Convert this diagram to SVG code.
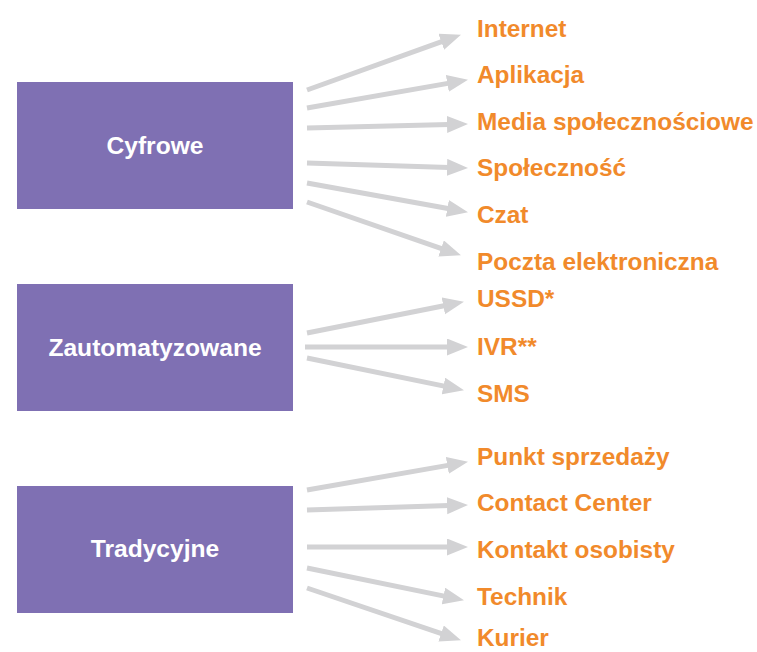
<svg xmlns="http://www.w3.org/2000/svg" width="757" height="652" viewBox="0 0 757 652">
  <style>
    .box { fill: #7F70B3; }
    .box-label { font-family: "Liberation Sans", Arial, sans-serif; font-weight: bold; font-size: 24.6px; fill: #ffffff; text-anchor: middle; }
    .item { font-family: "Liberation Sans", Arial, sans-serif; font-weight: bold; font-size: 24.4px; fill: #F18A2B; }
    .link { stroke: #D2D2D4; stroke-width: 5; fill: none; marker-end: url(#head); }
  </style>
  <defs>
    <marker id="head" markerUnits="userSpaceOnUse" markerWidth="21" markerHeight="18" refX="2" refY="8.5" orient="auto">
      <path d="M0,0 L21,8.5 L0,17 Z" fill="#D2D2D4"/>
    </marker>
  </defs>
  <rect width="757" height="652" fill="#ffffff"/>

  <!-- channel groups -->
  <g id="cyfrowe">
    <rect class="box" x="17" y="82" width="276" height="127"/>
    <text class="box-label" x="155" y="154">Cyfrowe</text>
  </g>
  <g id="zautomatyzowane">
    <rect class="box" x="17" y="284" width="276" height="127"/>
    <text class="box-label" x="155" y="356">Zautomatyzowane</text>
  </g>
  <g id="tradycyjne">
    <rect class="box" x="17" y="486" width="276" height="127"/>
    <text class="box-label" x="155" y="557">Tradycyjne</text>
  </g>

  <!-- connectors -->
  <g id="connectors">
    <line class="link" x1="307" y1="90" x2="443.1" y2="41.1"/>
    <line class="link" x1="307" y1="108" x2="449.3" y2="83.1"/>
    <line class="link" x1="307" y1="128" x2="449" y2="124.4"/>
    <line class="link" x1="307" y1="163" x2="449" y2="167.4"/>
    <line class="link" x1="307" y1="183" x2="449.3" y2="208.8"/>
    <line class="link" x1="307" y1="202" x2="443" y2="249.1"/>

    <line class="link" x1="307" y1="333" x2="445.3" y2="305.5"/>
    <line class="link" x1="305" y1="347" x2="449" y2="347"/>
    <line class="link" x1="307" y1="358" x2="445.4" y2="386.4"/>

    <line class="link" x1="307" y1="490" x2="449.3" y2="465.1"/>
    <line class="link" x1="307" y1="510" x2="449" y2="505.6"/>
    <line class="link" x1="307" y1="547" x2="449" y2="547"/>
    <line class="link" x1="307" y1="568" x2="445.4" y2="596.4"/>
    <line class="link" x1="307" y1="588" x2="443" y2="634.2"/>
  </g>

  <!-- channel items -->
  <g id="item-internet"><text class="item" x="477" y="37">Internet</text></g>
  <g id="item-aplikacja"><text class="item" x="477" y="83">Aplikacja</text></g>
  <g id="item-media"><text class="item" x="477" y="130">Media społecznościowe</text></g>
  <g id="item-spolecznosc"><text class="item" x="477" y="176">Społeczność</text></g>
  <g id="item-czat"><text class="item" x="477" y="223">Czat</text></g>
  <g id="item-poczta"><text class="item" x="477" y="270">Poczta elektroniczna</text></g>
  <g id="item-ussd"><text class="item" x="477" y="307">USSD*</text></g>
  <g id="item-ivr"><text class="item" x="477" y="355">IVR**</text></g>
  <g id="item-sms"><text class="item" x="477" y="402">SMS</text></g>
  <g id="item-punkt"><text class="item" x="477" y="465">Punkt sprzedaży</text></g>
  <g id="item-contact"><text class="item" x="477" y="511">Contact Center</text></g>
  <g id="item-kontakt"><text class="item" x="477" y="558">Kontakt osobisty</text></g>
  <g id="item-technik"><text class="item" x="477" y="605">Technik</text></g>
  <g id="item-kurier"><text class="item" x="477" y="646">Kurier</text></g>
</svg>
